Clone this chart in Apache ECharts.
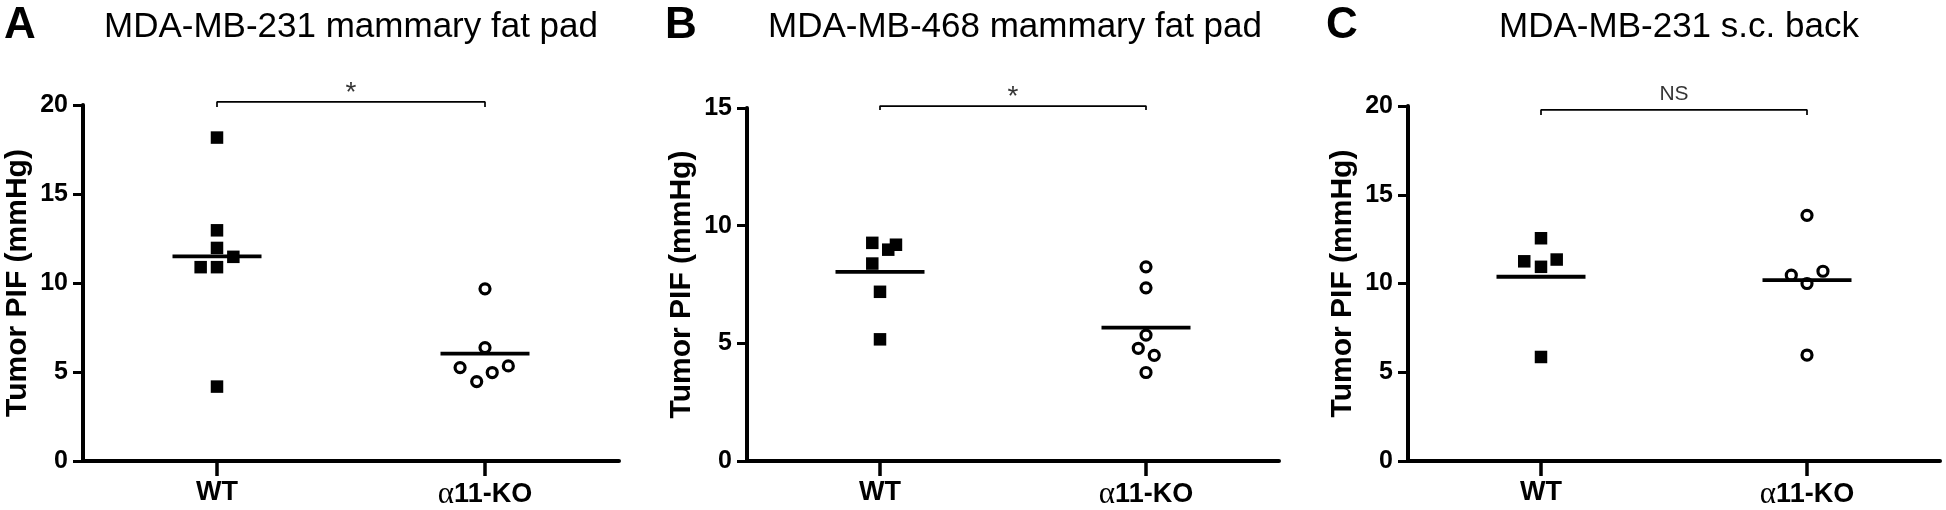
<!DOCTYPE html>
<html>
<head>
<meta charset="utf-8">
<script src="https://cdn.jsdelivr.net/npm/echarts@6/dist/echarts.min.js"></script>
<style>
html,body{margin:0;padding:0;background:#fff;}
#chart{width:1946px;height:510px;}
</style>
</head>
<body>
<div id="chart"></div>
<script>
// ---- data ----
const categories = ['WT', 'α11-KO'];
const panelLetters = ['A', 'B', 'C'];
const panelTitles = ['MDA-MB-231 mammary fat pad', 'MDA-MB-468 mammary fat pad', 'MDA-MB-231 s.c. back'];
const yAxisName = 'Tumor PIF (mmHg)';
const yMax = [20, 15, 20];
const yInterval = 5;
const sigLabels = ['*', '*', 'NS'];

const A_wt_values = [18.17, 12.96, 11.97, 11.47, 10.89, 10.89, 4.18];
const A_wt_jitter = [0, 0, 0, 0.061, -0.061, 0, 0];
const A_ko_values = [9.67, 6.37, 5.25, 4.46, 4.97, 5.34];
const A_ko_jitter = [0, 0, -0.093, -0.031, 0.027, 0.087];
const A_means = [11.50, 6.03];
const A_bracket = [19.89, 20.17];

const B_wt_values = [9.27, 9.19, 8.98, 8.39, 7.19, 5.17];
const B_wt_jitter = [-0.029, 0.060, 0.031, -0.029, 0, 0];
const B_ko_values = [8.25, 7.36, 5.35, 4.79, 4.49, 3.76];
const B_ko_jitter = [0, 0, 0, -0.029, 0.031, 0];
const B_means = [8.04, 5.67];
const B_bracket = [14.92, 15.08];

const C_wt_values = [12.55, 11.25, 11.35, 10.94, 5.86];
const C_wt_jitter = [0, -0.063, 0.059, 0, 0];
const C_ko_values = [13.84, 10.47, 10.69, 10.00, 5.97];
const C_ko_jitter = [0, -0.059, 0.060, 0, 0];
const C_means = [10.38, 10.19];
const C_bracket = [19.49, 19.78];

// ---- layout ----
const grids = [
  {left: 83, top: 105, width: 536, height: 357},
  {left: 747, top: 108, width: 532, height: 354},
  {left: 1408, top: 106, width: 532, height: 356}
];
const titleX = [351, 1015, 1679];
const letterX = [20, 681, 1342];

const panels = [
  {wt: A_wt_values, wtj: A_wt_jitter, ko: A_ko_values, koj: A_ko_jitter, means: A_means, br: A_bracket},
  {wt: B_wt_values, wtj: B_wt_jitter, ko: B_ko_values, koj: B_ko_jitter, means: B_means, br: B_bracket},
  {wt: C_wt_values, wtj: C_wt_jitter, ko: C_ko_values, koj: C_ko_jitter, means: C_means, br: C_bracket}
];

const FONT = '"Liberation Sans", Arial, Helvetica, sans-serif';
const xAxes = [], yAxes = [], series = [], graphics = [];

panels.forEach((p, i) => {
  // visible category axis (index 2*i)
  xAxes.push({
    type: 'category', gridIndex: i, data: categories, boundaryGap: true,
    axisLine: {show: true, onZero: false, lineStyle: {color: '#000', width: 4}},
    axisTick: {show: true, alignWithLabel: true, length: 15, lineStyle: {color: '#000', width: 3.5}},
    axisLabel: {
      color: '#000', fontSize: 27, fontWeight: 'bold', fontFamily: FONT, margin: 18,
      formatter: v => v.indexOf('α') === 0 ? '{al|α}' + v.slice(1) : v,
      rich: {al: {fontFamily: '"Liberation Serif", "DejaVu Serif", serif', fontWeight: 'normal', fontSize: 31, color: '#000'}}
    },
    splitLine: {show: false}
  });
  // hidden value axis for jittered placement (index 2*i+1)
  xAxes.push({type: 'value', gridIndex: i, min: -0.5, max: 1.5, show: false,
    axisLine: {onZero: false}});
  yAxes.push({
    type: 'value', gridIndex: i, min: 0, max: yMax[i], interval: yInterval,
    name: yAxisName, nameLocation: 'middle', nameGap: 50,
    nameTextStyle: {color: '#000', fontSize: 30, fontWeight: 'bold', fontFamily: FONT},
    axisLine: {show: true, onZero: false, lineStyle: {color: '#000', width: 4}},
    axisTick: {show: true, length: 10, lineStyle: {color: '#000', width: 3}},
    axisLabel: {color: '#000', fontSize: 25, fontWeight: 'bold', fontFamily: FONT, margin: 15},
    splitLine: {show: false}
  });
  const xi = 2 * i + 1;
  series.push({
    type: 'scatter', xAxisIndex: xi, yAxisIndex: i, symbol: 'rect', symbolSize: 12.5,
    itemStyle: {color: '#000', opacity: 1},
    data: p.wt.map((v, k) => [0 + p.wtj[k], v]), silent: true, z: 3
  });
  series.push({
    type: 'scatter', xAxisIndex: xi, yAxisIndex: i, symbol: 'circle', symbolSize: 10,
    itemStyle: {color: '#fff', borderColor: '#000', borderWidth: 3.2, opacity: 1},
    data: p.ko.map((v, k) => [1 + p.koj[k], v]), silent: true, z: 3
  });
  // mean lines
  series.push({
    type: 'scatter', xAxisIndex: xi, yAxisIndex: i, symbol: 'rect', symbolSize: [89, 3.8],
    itemStyle: {color: '#000', opacity: 1},
    data: p.means.map((m, k) => [k, m]), silent: true, z: 4
  });
  // significance bracket
  series.push({
    type: 'line', xAxisIndex: xi, yAxisIndex: i, symbol: 'none', clip: false,
    lineStyle: {color: '#000', width: 1.7},
    data: [[0, p.br[0]], [0, p.br[1]], [1, p.br[1]], [1, p.br[0]]], silent: true, z: 4
  });
  // significance label
  series.push({
    type: 'scatter', xAxisIndex: xi, yAxisIndex: i, symbolSize: 0, clip: false,
    data: [[0.5, p.br[1]]], silent: true,
    label: {show: true, position: 'top', distance: sigLabels[i] === '*' ? -5 : 5,
      formatter: sigLabels[i], color: '#000', fontFamily: FONT,
      fontSize: sigLabels[i] === '*' ? 28 : 21}
  });
  graphics.push({type: 'text', x: letterX[i], y: 26, silent: true,
    style: {text: panelLetters[i], align: 'center', verticalAlign: 'middle', fill: '#000',
      font: 'bold 44px ' + FONT}});
  graphics.push({type: 'text', x: titleX[i], y: 27, silent: true,
    style: {text: panelTitles[i], align: 'center', verticalAlign: 'middle', fill: '#000',
      font: 'normal 35px ' + FONT}});
});

const chart = echarts.init(document.getElementById('chart'), null, {renderer: 'canvas'});
chart.setOption({
  animation: false,
  backgroundColor: '#fff',
  grid: grids,
  xAxis: xAxes,
  yAxis: yAxes,
  series: series,
  graphic: graphics
});
</script>
</body>
</html>
